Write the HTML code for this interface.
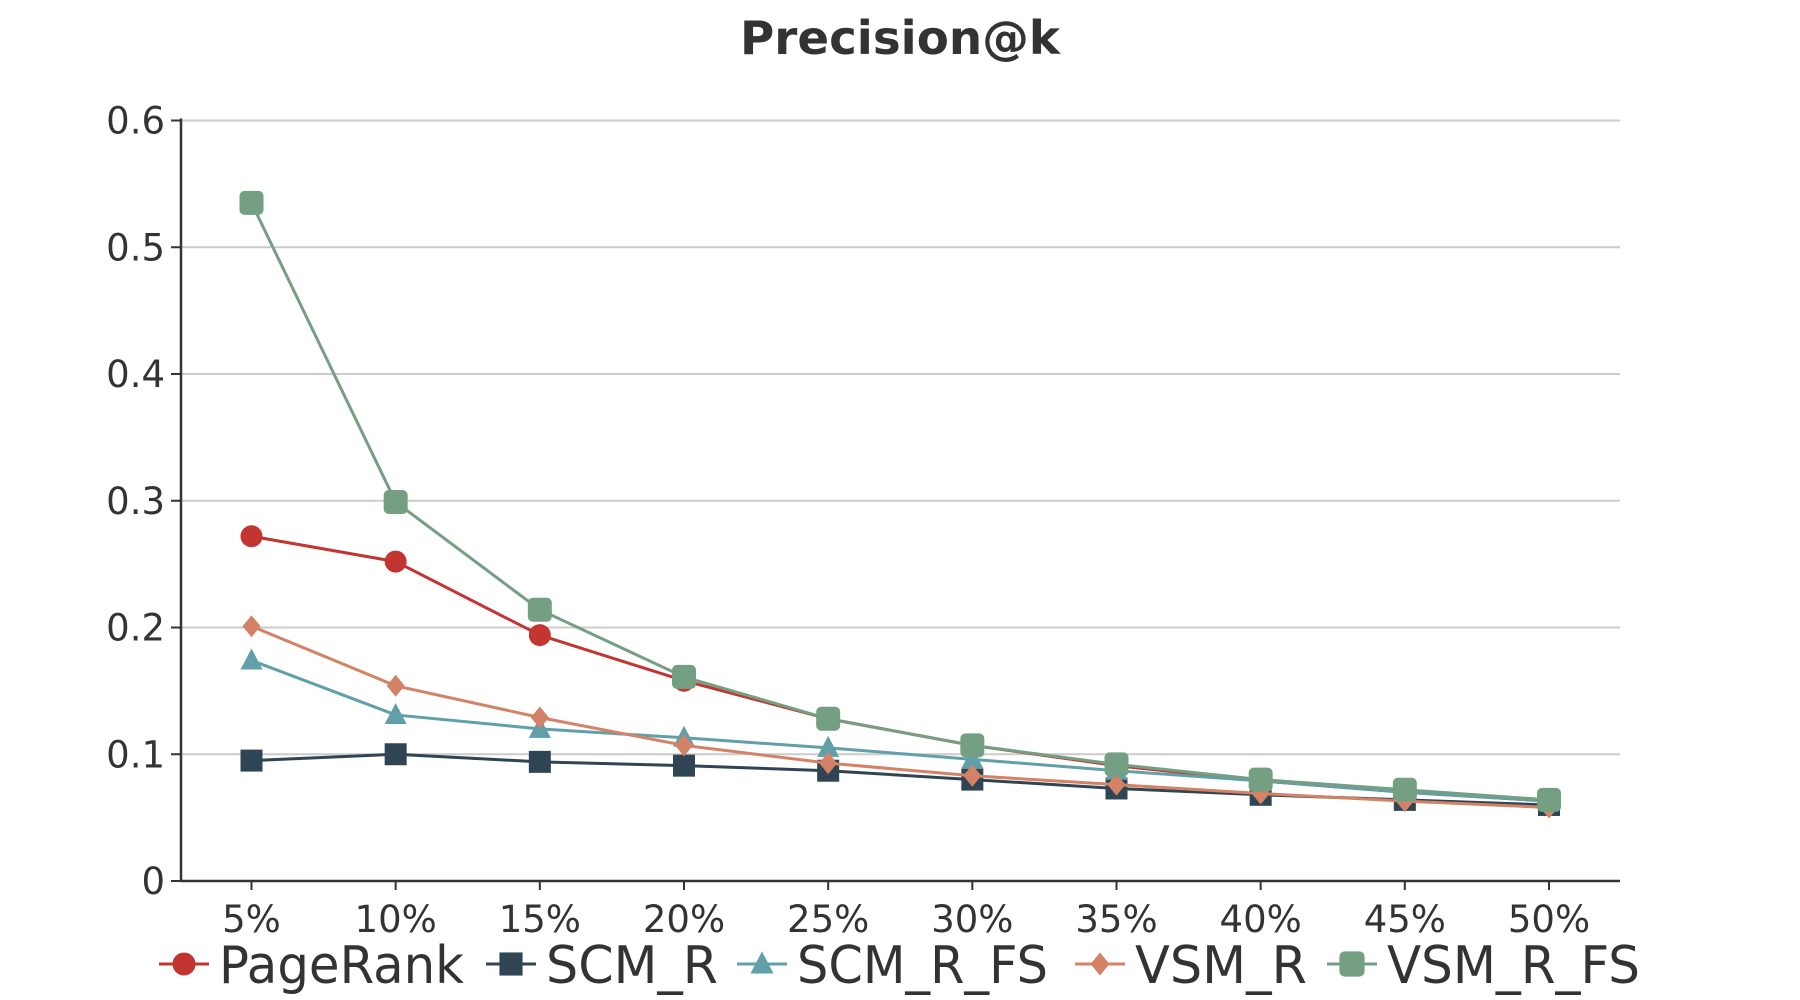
<!DOCTYPE html>
<html><head><meta charset="utf-8"><style>
html,body{margin:0;padding:0;background:#fff;}
svg{display:block;font-family:"DejaVu Sans","Liberation Sans",sans-serif;}
</style></head><body>
<svg id="chart" width="1800" height="1000" viewBox="0 0 1800 1000">
<text x="900" y="54" text-anchor="middle" font-size="46" font-weight="bold" fill="#333" textLength="320" lengthAdjust="spacingAndGlyphs">Precision@k</text>
<g id="grid"></g>
<g id="axes"></g>
<g id="series"></g>
<g id="legend"></g>
</svg>
<script>
const categories = ["5%","10%","15%","20%","25%","30%","35%","40%","45%","50%"];
const yTicks = [0,0.1,0.2,0.3,0.4,0.5,0.6];
const yTickLabels = ["0","0.1","0.2","0.3","0.4","0.5","0.6"];
const seriesNames = ["PageRank","SCM_R","SCM_R_FS","VSM_R","VSM_R_FS"];
const pageRank = [0.272,0.252,0.194,0.158,0.128,0.107,0.091,0.079,0.070,0.063];
const scmR = [0.095,0.100,0.094,0.091,0.087,0.080,0.073,0.068,0.064,0.060];
const scmRFS = [0.174,0.131,0.120,0.113,0.105,0.096,0.087,0.079,0.070,0.063];
const vsmR = [0.201,0.154,0.129,0.107,0.093,0.083,0.076,0.069,0.063,0.058];
const vsmRFS = [0.535,0.299,0.214,0.161,0.128,0.107,0.092,0.080,0.072,0.064];

const NS="http://www.w3.org/2000/svg";
const X0=181,X1=1620,Y0=881,Y1=120.5,YMAX=0.6;
const firstX=251.5,stepX=(1549-251.5)/9;
function xPos(i){return firstX+i*stepX;}
function yPos(v){return Y0-(v/YMAX)*(Y0-Y1);}
function mk(tag,attrs,parent){const e=document.createElementNS(NS,tag);for(const k in attrs)e.setAttribute(k,attrs[k]);parent.appendChild(e);return e;}
const grid=document.getElementById('grid'),axes=document.getElementById('axes'),ser=document.getElementById('series'),leg=document.getElementById('legend');

yTicks.forEach((t,i)=>{
  const y=yPos(t);
  if(t>0){const g=mk('line',{x1:X0,x2:X1,y1:y,y2:y,stroke:'#ccc','stroke-width':2},grid);
  
  }
  const tk=mk('line',{x1:X0-10,x2:X0,y1:y,y2:y,stroke:'#333','stroke-width':2},axes);
  
  
  const tx=mk('text',{x:X0-16,y:y+13,'text-anchor':'end','font-size':37,fill:'#333'},axes);
  tx.textContent=yTickLabels[i];
  
  
});
const ya=mk('line',{x1:X0,x2:X0,y1:Y1-2,y2:Y0+1,stroke:'#333','stroke-width':2.5},axes);


const xa=mk('line',{x1:X0,x2:X1,y1:Y0,y2:Y0,stroke:'#333','stroke-width':2.5},axes);


categories.forEach((c,i)=>{
  const x=xPos(i);
  const tk=mk('line',{x1:x,x2:x,y1:Y0,y2:Y0+9,stroke:'#333','stroke-width':2},axes);
  
  
  const tx=mk('text',{x:x,y:932,'text-anchor':'middle','font-size':37,fill:'#333'},axes);
  tx.textContent=c;
  
  
});

function marker(shape,x,y,color,parent,s){
  let e;
  if(shape==='circle') e=mk('circle',{cx:x,cy:y,r:11*s,fill:color},parent);
  else if(shape==='square') e=mk('rect',{x:x-11*s,y:y-11*s,width:22*s,height:22*s,fill:color},parent);
  else if(shape==='rsquare') e=mk('rect',{x:x-12*s,y:y-12*s,width:24*s,height:24*s,rx:5*s,fill:color},parent);
  else if(shape==='triangle') e=mk('polygon',{points:`${x},${y-12*s} ${x+11*s},${y+9*s} ${x-11*s},${y+9*s}`,fill:color},parent);
  else e=mk('polygon',{points:`${x},${y-11*s} ${x+9*s},${y} ${x},${y+11*s} ${x-9*s},${y}`,fill:color},parent);
  return e;
}
const allData=[pageRank,scmR,scmRFS,vsmR,vsmRFS];
const colors=['#c23531','#2f4554','#61a0a8','#d48265','#749f83'];
const shapes=['circle','square','triangle','diamond','rsquare'];
const slugs=['pagerank','scm-r','scm-r-fs','vsm-r','vsm-r-fs'];
allData.forEach((d,si)=>{
  const g=mk('g',{},ser);
  
  
  const pts=d.map((v,i)=>xPos(i)+','+yPos(v)).join(' ');
  const pl=mk('polyline',{points:pts,fill:'none',stroke:colors[si],'stroke-width':3},g);
  
  
  d.forEach((v,i)=>{
    const m=marker(shapes[si],xPos(i),yPos(v),colors[si],g,1);
    
    
  });
});
const legMarkX=[184,511,762,1100,1352];
const legTextW=[245,172,251,172,253];
seriesNames.forEach((n,si)=>{
  const g=mk('g',{},leg);
  
  
  const cx=legMarkX[si],cy=964;
  mk('line',{x1:cx-25,x2:cx+25,y1:cy,y2:cy,stroke:colors[si],'stroke-width':3},g);
  marker(shapes[si],cx,cy,colors[si],g,1.05);
  const t=mk('text',{x:cx+35,y:cy+19,'font-size':52,fill:'#333',textLength:legTextW[si],lengthAdjust:'spacingAndGlyphs'},g);
  t.textContent=n;
});
</script>
</body></html>
